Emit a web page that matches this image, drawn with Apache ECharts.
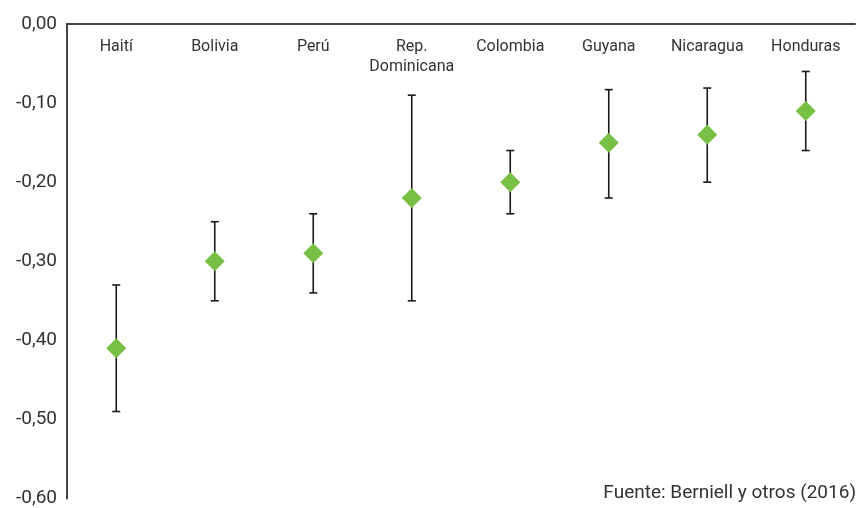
<!DOCTYPE html>
<html>
<head>
<meta charset="utf-8">
<script src="https://cdn.jsdelivr.net/npm/echarts@6/dist/echarts.min.js"></script>
<style>
  html, body { margin: 0; padding: 0; background: #fff; }
  #chart { width: 856px; height: 508px; }
</style>
</head>
<body>
<div id="chart"></div>
<script>
// países
const countries = ['Haití', 'Bolivia', 'Perú', 'Rep.\nDominicana', 'Colombia', 'Guyana', 'Nicaragua', 'Honduras'];
// estimación puntual
const estimate = [-0.41, -0.30, -0.29, -0.22, -0.20, -0.15, -0.14, -0.11];
// intervalo: límite superior / inferior
const upper = [-0.33, -0.25, -0.24, -0.09, -0.16, -0.083, -0.081, -0.06];
const lower = [-0.49, -0.35, -0.34, -0.35, -0.24, -0.22, -0.20, -0.16];

const fontName = 'Roboto, sans-serif';

let myChart = echarts.init(document.getElementById('chart'));
let option = {
    animation: false,
    grid: {
        left: 67,
        right: 1,
        top: 24,
        bottom: 7
    },
    xAxis: {
        type: 'category',
        position: 'top',
        data: countries,
        axisTick: { show: false },
        axisLine: {
            lineStyle: { color: '#444', width: 2 }
        },
        axisLabel: {
            inside: true,
            margin: 13,
            color: '#333',
            fontSize: 16,
            fontFamily: fontName,
            lineHeight: 20,
            verticalAlign: 'top',
            interval: 0
        }
    },
    yAxis: {
        type: 'value',
        min: -0.6,
        max: 0,
        interval: 0.1,
        splitLine: { show: false },
        axisTick: { show: false },
        axisLine: {
            show: true,
            lineStyle: { color: '#444', width: 2 }
        },
        axisLabel: {
            color: '#333',
            fontSize: 19,
            fontFamily: fontName,
            margin: 10,
            formatter: v => v.toFixed(2).replace('.', ',')
        }
    },
    series: [
        {
            // barras de error
            type: 'custom',
            data: countries.map((c, i) => [i, upper[i], lower[i]]),
            renderItem: function (params, api) {
                let top = api.coord([api.value(0), api.value(1)]);
                let bot = api.coord([api.value(0), api.value(2)]);
                let half = 4;
                let style = { stroke: '#1a1a1a', lineWidth: 1.6 };
                return {
                    type: 'group',
                    children: [
                        { type: 'line', shape: { x1: top[0], y1: top[1], x2: bot[0], y2: bot[1] }, style: style },
                        { type: 'line', shape: { x1: top[0] - half, y1: top[1], x2: top[0] + half, y2: top[1] }, style: style },
                        { type: 'line', shape: { x1: bot[0] - half, y1: bot[1], x2: bot[0] + half, y2: bot[1] }, style: style }
                    ]
                };
            },
            z: 2
        },
        {
            type: 'scatter',
            data: estimate,
            symbol: 'diamond',
            symbolSize: [20, 20],
            itemStyle: { color: '#77bf45', opacity: 1 },
            z: 3
        }
    ],
    graphic: [
        {
            type: 'text',
            right: 0,
            bottom: 5,
            style: {
                text: 'Fuente: Berniell y otros (2016)',
                fill: '#333',
                fontSize: 19,
                fontFamily: fontName
            }
        }
    ]
};
myChart.setOption(option);
</script>
</body>
</html>
